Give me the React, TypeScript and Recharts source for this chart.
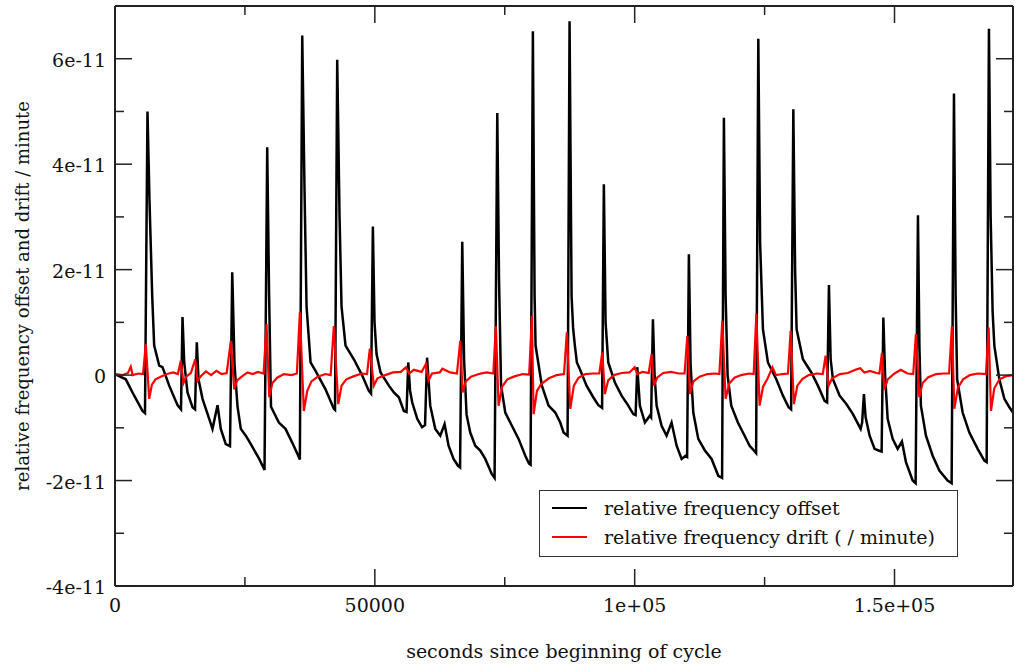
import React from "react";
import { LineChart, Line, XAxis, YAxis, Legend } from "recharts";

// relative frequency offset, values in units of 1e-11
const offsetTime = [
  0, 2080, 3370, 5290, 5770, 6250, 6640, 7160, 7540, 8510, 9140, 10430, 12030, 12700, 12990, 13320,
  13950, 14920, 15400, 15740, 16070, 16840, 18130, 18760, 19730, 20360, 21320, 22130, 22560, 23000,
  23580, 24210, 25170, 26140, 27750, 28770, 29290, 29640, 30020, 31530, 32810, 34100, 35220, 35570,
  36030, 36470, 36860, 37630, 38590, 40510, 42110, 42340, 42760, 43210, 43590, 44360, 45960, 47580,
  48850, 49270, 49620, 49940, 50330, 51100, 52700, 53660, 54620, 55580, 56100, 56430, 56780, 57200,
  58160, 59090, 59660, 60050, 60660, 61630, 62590, 63420, 64190, 65150, 66010, 66400, 66820, 67170,
  67650, 68360, 69320, 70290, 71250, 72520, 73040, 73560, 73900, 74290, 75100, 76370, 77660, 78950,
  79680, 79970, 80410, 80740, 80930, 82140, 83430, 84720, 85680, 86320, 87090, 87470, 87860, 88150,
  88490, 88880, 89460, 90740, 92030, 93000, 93730, 94070, 94400, 94920, 96190, 97480, 98770, 99730,
  100180, 100500, 101000, 101970, 102930, 103160, 103510, 103830, 104220, 105180, 106140, 107100,
  108070, 109030, 109800, 110090, 110430, 110760, 111280, 112240, 113510, 114800, 116090, 116820,
  117170, 117500, 117880, 118590, 119860, 121150, 122120, 122940, 123370, 123790, 124140, 124680,
  125640, 127250, 128530, 129620, 130100, 130530, 130870, 131160, 132370, 133990, 135260, 136550,
  137030, 137380, 137710, 138150, 139440, 140730, 142000, 143480, 143770, 144110, 144440, 145210,
  146170, 146940, 147520, 147850, 148190, 148680, 149640, 150600, 151430, 152200, 153490, 154060,
  154510, 154800, 155080, 156050, 157340, 158630, 160220, 160990, 161440, 161760, 162050, 163110,
  164400, 166000, 167290, 167730, 168170, 168500, 168880, 169210, 170170, 171140, 172100, 172800,
];
const offsetValue = [
  0.02, -0.08, -0.33, -0.68, -0.72, 5.0, 3.3, 1.5, 0.56, 0.18, 0.15, -0.2, -0.57, -0.65, 1.1, 0.24,
  -0.33, -0.61, -0.65, 0.62, -0.08, -0.45, -0.83, -1.02, -0.57, -1.02, -1.31, -1.35, 1.95, 0.2,
  -0.6, -1.02, -1.15, -1.31, -1.59, -1.8, 4.32, 1.6, -0.6, -0.9, -1.02, -1.28, -1.52, -1.6,
  6.44, 3.5, 1.3, 0.24, 0.08, -0.27, -0.64, -0.66, 5.98, 3.0, 1.3, 0.56, 0.3, -0.01,
  -0.3, -0.35, 2.82, 1.0, 0.4, 0.05, -0.2, -0.33, -0.42, -0.68, -0.7, 0.24, -0.3, -0.52,
  -0.83, -0.99, -0.95, 0.33, -0.58, -1.02, -1.15, -0.93, -1.34, -1.59, -1.72, -1.75, 2.53, 0.3,
  -0.75, -1.09, -1.34, -1.43, -1.59, -1.88, -1.95, 4.97, 1.8, -0.2, -0.71, -0.96, -1.21, -1.53,
  -1.68, -1.7, 6.52, 1.5, 0.56, -0.2, -0.58, -0.71, -0.9, -1.09, -1.15, 6.71, 1.5, 0.9,
  0.56, 0.24, 0.11, -0.2, -0.42, -0.57, -0.62, 3.62, 1.0, 0.24, -0.14, -0.39, -0.58, -0.74,
  -0.76, 0.15, -0.58, -0.9, -0.77, -0.8, 1.06, 0.0, -0.58, -0.96, -1.15, -0.9,
  -1.34, -1.59, -1.53, -1.55, 2.29, 0.2, -0.71, -1.21, -1.43, -1.59, -1.91, -1.95,
  4.88, 1.5, 0.0, -0.58, -0.9, -1.15, -1.34, -1.43, -1.48, 6.38, 2.5, 0.87,
  0.24, -0.08, -0.39, -0.61, -0.65, 5.04, 2.0, 0.87, 0.3, 0.05, -0.2, -0.49,
  -0.52, 1.71, 0.3, -0.08, -0.39, -0.55, -0.74, -1.02, -0.9, -0.36, -0.8, -1.15,
  -1.4, -1.43, -1.45, 1.09, 0.0, -0.83, -1.21, -1.4, -1.26, -1.65, -2.0, -2.05,
  3.03, 0.5, -0.58, -1.15, -1.53, -1.81, -2.0, -2.05, 5.34, 1.5, -0.08, -0.71,
  -1.09, -1.4, -1.62, -1.65, 6.57, 3.0, 1.2, 0.56, -0.08, -0.45, -0.61, -0.71,
];

// relative frequency drift per minute, units of 1e-11
const driftTime = [
  0, 1500, 2500, 3040, 3400, 4500, 5400, 5930, 6580, 7100, 7800, 8800, 10000, 11200, 12100, 12660,
  13180, 13700, 14600, 15440, 15880, 16500, 17500, 18500, 19500, 20500, 21500, 22290, 22940, 23500,
  24500, 25500, 26500, 27500, 28600, 29160, 29680, 30300, 31200, 32500, 34000, 35000, 35570, 36340,
  37000, 37800, 39000, 40500, 41500, 42110, 42960, 43600, 44500, 46000, 47500, 48500, 49040, 49810,
  50500, 52000, 53500, 55000, 56000, 56600, 57500, 59000, 59820, 60340, 61000, 62500, 63000, 64500,
  65800, 66440, 66880, 67500, 68500, 70000, 71500, 72800, 73290, 73810, 74500, 75500, 77000, 78500,
  79700, 80220, 80550, 81200, 82000, 83500, 85000, 86400, 86950, 87610, 88300, 89200, 90500, 92000,
  93200, 93770, 94270, 94900, 96000, 97500, 99000, 100000, 100500, 101500, 102700, 103260, 103700,
  104300, 105500, 107000, 108500, 109600, 110130, 110630, 111300, 112500, 114000, 115500, 116300,
  116860, 117500, 118200, 119200, 120500, 122000, 122900, 123410, 124040, 124700, 125500, 126500,
  127200, 128500, 129500, 130010, 130640, 131300, 132300, 133500, 135000, 136200, 136740, 137320,
  138000, 139500, 141000, 142500, 143400, 144200, 145300, 146500, 147100, 147580, 148040, 148700,
  150000, 151200, 152500, 153600, 154120, 154780, 155400, 156500, 158000, 159500, 160500, 161050,
  161510, 162200, 163200, 164500, 166000, 167600, 168110, 168560, 169200, 170200, 171500, 172800,
];
const driftValue = [
  0.02, 0.0, 0.04, 0.16, 0.0, 0.03, 0.02, 0.59, -0.45, -0.18, -0.08, -0.03, 0.02, 0.05, 0.02, 0.27,
  -0.15, -0.03, 0.04, 0.3, -0.11, -0.02, 0.07, 0.0, 0.08, 0.02, 0.04, 0.65, -0.27, -0.1,
  -0.02, 0.05, 0.02, 0.06, 0.03, 0.97, -0.42, -0.15, -0.05, 0.02, 0.0, 0.03, 1.19, -0.68,
  -0.3, -0.12, -0.03, 0.02, 0.0, 0.93, -0.55, -0.2, -0.08, -0.02, 0.03, 0.02, 0.5, -0.2,
  -0.06, 0.0, 0.05, 0.06, 0.15, 0.03, 0.1, 0.06, 0.21, -0.1, 0.03, 0.05, 0.12, 0.05,
  0.03, 0.65, -0.33, -0.12, -0.03, 0.02, 0.05, 0.03, 0.93, -0.58, -0.22, -0.08, -0.02, 0.02,
  0.01, 1.12, -0.74, -0.3, -0.17, -0.06, 0.0, 0.02, 0.81, -0.64, -0.2, -0.05, 0.02, 0.03,
  0.03, 0.43, -0.36, -0.1, 0.0, 0.04, 0.05, 0.15, 0.02, 0.06, 0.04, 0.4, -0.2,
  -0.05, 0.04, 0.06, 0.03, 0.03, 0.74, -0.36, -0.12, -0.03, 0.02, 0.03, 0.02,
  1.03, -0.45, -0.16, -0.05, 0.0, 0.03, 0.02, 1.16, -0.58, -0.22, -0.08, 0.15,
  0.0, 0.02, 0.03, 0.84, -0.55, -0.2, -0.07, 0.0, 0.03, 0.02, 0.37, -0.2,
  -0.06, 0.02, 0.04, 0.1, 0.13, 0.05, 0.08, 0.04, 0.03, 0.42, -0.27, -0.08,
  0.03, 0.1, 0.03, 0.02, 0.78, -0.42, -0.15, -0.04, 0.02, 0.03, 0.03, 0.93,
  -0.64, -0.24, -0.08, 0.0, 0.03, 0.02, 0.9, -0.68, -0.25, -0.08, -0.02, 0.0,
];

const seriesNames = ["relative frequency offset", "relative frequency drift ( / minute)"];
const seriesColors = ["#000000", "#ff0000"];

const xMajor = [0, 50000, 100000, 150000];
const xMajorLabels = ["0", "50000", "1e+05", "1.5e+05"];
const xMinor = [25000, 75000, 125000];
const yMajor = [-4, -2, 0, 2, 4, 6];
const yMajorLabels = ["-4e-11", "-2e-11", "0", "2e-11", "4e-11", "6e-11"];
const yMinor = [-3, -1, 1, 3, 5];

const offsetData = offsetTime.map((t, i) => ({ t, v: offsetValue[i] }));
const driftData = driftTime.map((t, i) => ({ t, v: driftValue[i] }));
const xTicks = [...xMajor, ...xMinor].sort((a, b) => a - b);
const yTicks = [...yMajor, ...yMinor].sort((a, b) => a - b);

const FRAME = "#222";
const INK = "#111";
const FONT = "'DejaVu Serif', serif";

const BottomTick = ({ x, y, payload }: any) => {
  const i = xMajor.indexOf(payload.value);
  return (
    <g>
      <line x1={x} y1={y} x2={x} y2={y - (i >= 0 ? 17 : 9)} stroke={FRAME} strokeWidth={1.5} />
      {i >= 0 && (
        <text x={x} y={y + 26} textAnchor="middle" fontSize={19} fontFamily={FONT} fill={INK}>
          {xMajorLabels[i]}
        </text>
      )}
    </g>
  );
};

const TopTick = ({ x, y, payload }: any) => {
  const major = xMajor.includes(payload.value);
  return <line x1={x} y1={y} x2={x} y2={y + (major ? 17 : 9)} stroke={FRAME} strokeWidth={1.5} />;
};

const LeftTick = ({ x, y, payload }: any) => {
  const i = yMajor.indexOf(payload.value);
  return (
    <g>
      <line x1={x} y1={y} x2={x + (i >= 0 ? 17 : 9)} y2={y} stroke={FRAME} strokeWidth={1.5} />
      {i >= 0 && (
        <text x={x - 9} y={y + 8} textAnchor="end" fontSize={19} fontFamily={FONT} fill={INK}>
          {yMajorLabels[i]}
        </text>
      )}
    </g>
  );
};

const RightTick = ({ x, y, payload }: any) => {
  const major = yMajor.includes(payload.value);
  return <line x1={x} y1={y} x2={x - (major ? 17 : 9)} y2={y} stroke={FRAME} strokeWidth={1.5} />;
};

const XTitle = ({ viewBox }: any) => {
  const vb = viewBox || { x: 115, y: 586, width: 898 };
  return (
    <text x={vb.x + vb.width / 2} y={vb.y + 72} textAnchor="middle" fontSize={19} fontFamily={FONT} fill={INK}>
      seconds since beginning of cycle
    </text>
  );
};

const YTitle = ({ viewBox }: any) => {
  const vb = viewBox || { x: 0, y: 6, height: 580 };
  const cx = vb.x + 29;
  const cy = vb.y + vb.height / 2;
  return (
    <text x={cx} y={cy} transform={`rotate(-90 ${cx} ${cy})`} textAnchor="middle" fontSize={18} fontFamily={FONT} fill={INK}>
      relative frequency offset and drift / minute
    </text>
  );
};

const LegendBox = () => (
  <div
    style={{
      width: 419,
      height: 67,
      boxSizing: "border-box",
      border: "1.5px solid #333",
      background: "#fff",
      position: "relative",
      fontFamily: FONT,
      fontSize: 19,
      color: INK,
    }}
  >
    {seriesNames.map((name, i) => (
      <div key={name} style={{ position: "absolute", left: 0, top: 4 + i * 29, height: 26, display: "flex", alignItems: "center", whiteSpace: "nowrap" }}>
        <svg width={64} height={26}>
          <line x1={12} x2={47} y1={13} y2={13} stroke={seriesColors[i]} strokeWidth={2} />
        </svg>
        <span>{name}</span>
      </div>
    ))}
  </div>
);

export default function App() {
  return (
    <div style={{ position: "absolute", left: 0, top: 0, background: "#fff" }}>
      <LineChart width={1017} height={667} margin={{ top: 5, right: 3, bottom: 0, left: 0 }}>
        <XAxis
          dataKey="t"
          type="number"
          domain={[0, 172800]}
          allowDataOverflow
          ticks={xTicks}
          interval={0}
          tick={<BottomTick />}
          tickLine={false}
          tickSize={0}
          tickMargin={0}
          height={81}
          axisLine={{ stroke: FRAME, strokeWidth: 2 }}
          label={<XTitle />}
        />
        <XAxis
          xAxisId="top"
          dataKey="t"
          orientation="top"
          type="number"
          domain={[0, 172800]}
          allowDataOverflow
          ticks={xTicks}
          interval={0}
          tick={<TopTick />}
          tickLine={false}
          tickSize={0}
          tickMargin={0}
          height={1}
          axisLine={{ stroke: FRAME, strokeWidth: 2 }}
        />
        <YAxis
          type="number"
          domain={[-4, 7]}
          allowDataOverflow
          ticks={yTicks}
          interval={0}
          tick={<LeftTick />}
          tickLine={false}
          tickSize={0}
          tickMargin={0}
          width={115}
          axisLine={{ stroke: FRAME, strokeWidth: 2 }}
          label={<YTitle />}
        />
        <YAxis
          yAxisId="right"
          orientation="right"
          type="number"
          domain={[-4, 7]}
          allowDataOverflow
          ticks={yTicks}
          interval={0}
          tick={<RightTick />}
          tickLine={false}
          tickSize={0}
          tickMargin={0}
          width={1}
          axisLine={{ stroke: FRAME, strokeWidth: 2 }}
        />
        {/* invisible series so the mirrored frame axes get a scale */}
        <Line
          xAxisId="top"
          yAxisId="right"
          data={offsetData}
          dataKey="v"
          stroke="none"
          legendType="none"
          dot={false}
          activeDot={false}
          isAnimationActive={false}
        />
        <Line
          data={offsetData}
          dataKey="v"
          name={seriesNames[0]}
          type="linear"
          stroke={seriesColors[0]}
          strokeWidth={2.5}
          dot={false}
          isAnimationActive={false}
        />
        <Line
          data={driftData}
          dataKey="v"
          name={seriesNames[1]}
          type="linear"
          stroke={seriesColors[1]}
          strokeWidth={2.2}
          dot={false}
          isAnimationActive={false}
        />
        <Legend
          layout="vertical"
          verticalAlign="middle"
          align="center"
          content={<LegendBox />}
          wrapperStyle={{ left: 539, top: 490, width: 419, height: 67 }}
        />
      </LineChart>
    </div>
  );
}
